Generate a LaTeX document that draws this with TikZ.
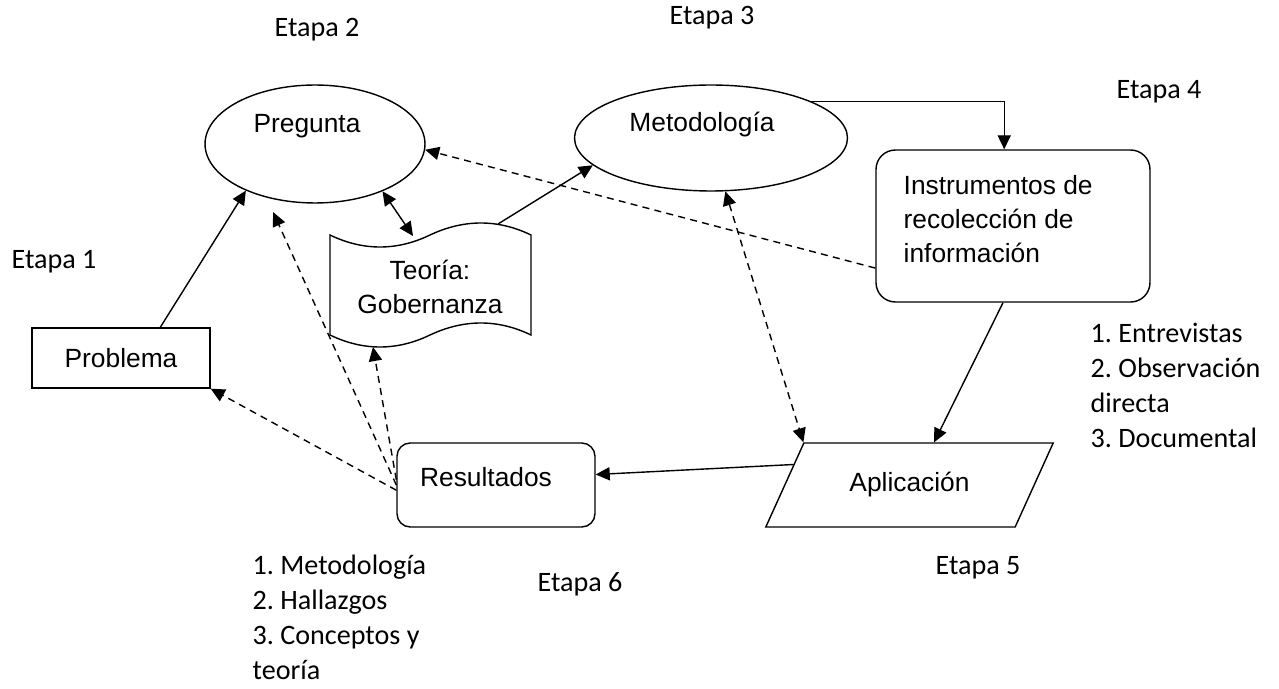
\documentclass[tikz,border=0pt]{standalone}
\usepackage{fontspec}
\setmainfont{Liberation Sans}
\newfontfamily\etapafont{Carlito}
\usetikzlibrary{arrows.meta,shapes.geometric}
\frenchspacing

\begin{document}
\begin{tikzpicture} [x=0.02cm, y=-0.02cm, line width=0.8pt,
  >={Triangle[length=8pt,width=7.5pt]},
  every node/.style={font=\fontsize{15pt}{19.5pt}\selectfont},
  etapa/.style={font=\etapafont\fontsize{16pt}{20pt}\selectfont},
  lista/.style={etapa, align=left, anchor=north west, inner sep=0pt},
  punteada/.style={dash pattern=on 4pt off 3pt}]

\useasboundingbox (0,0) rectangle (1279,689);

% the stages
\node (e1) [etapa] at (54,262) {Etapa 1};
\node (e2) [etapa] at (317,30) {Etapa 2};
\node (e3) [etapa] at (712,18) {Etapa 3};
\node (e4) [etapa] at (1159,92) {Etapa 4};
\node (e5) [etapa] at (978,568) {Etapa 5};
\node (e6) [etapa] at (580,584) {Etapa 6};


\node (prob) [draw, minimum width=3.56cm, minimum height=1.2cm] at (121,358) {Problema};

\node (preg) [draw, ellipse, minimum width=4.4cm, minimum height=2.36cm, inner sep=0pt] at (315,144) {};
\node (pregtxt) at (307,126) {Pregunta};

\node (metod) [draw, ellipse, minimum width=5.46cm, minimum height=2.12cm, inner sep=0pt] at (711,138) {};
\node (metodtxt) at (702,125) {Metodología};

\node (box) [draw, rounded corners=11pt, minimum width=5.48cm, minimum height=3.04cm] at (1013,226) {};
\node (boxtxt) [anchor=north west, align=left, inner sep=0pt, font=\fontsize{15pt}{19.3pt}\selectfont] at (903,175) {Instrumentos de\\recolección de\\información};

\node (res) [draw, rounded corners=7.5pt, minimum width=3.96cm, minimum height=1.68cm] at (496,485) {};
\node (restxt) at (486,477) {Resultados};

\node (apl) [draw, trapezium, trapezium left angle=49, trapezium right angle=131, trapezium stretches, minimum width=5.78cm, minimum height=1.68cm, inner sep=0pt] at (909.5,485) {Aplicación};


% the tape with the theory
\draw (330,235) .. controls (363,251) and (397,251) .. (430,235)
 .. controls (464,219) and (498,219) .. (531,235)--(531,335)
 .. controls (498,319) and (464,319) .. (430,335)
 .. controls (397,351) and (363,351) .. (330,335)--cycle;
\node (teo) [align=center, font=\fontsize{15pt}{19.8pt}\selectfont] at (430,287) {Teoría:\\Gobernanza};
\coordinate (teotop) at (413,236);
\coordinate (teoarr) at (498,224);
\coordinate (teobot) at (373,347);


% the lists
\node (lista1) [lista] at (1090,322) {1. Entrevistas\\2. Observación\\directa\\3. Documental};
\node (lista2) [lista] at (252,554) {1. Metodología\\2. Hallazgos\\3. Conceptos y\\teoría};


% the arrows
\draw [->] (prob.38)--(preg.214);
\draw [<->] (preg.-35)--(teotop);
\draw [->] (teoarr)--(metod.193);
\draw [->] (metod.20)-|([xshift=-5pt]box.north);
\draw [->] ([xshift=-5.7pt]box.south)--(apl.60);
\draw [->] (apl.170)--(res.6);

\draw [->, punteada] (box.197.7)--(preg.-3);
\draw [<->, punteada] (metod.-75)--(apl.top left corner);
\draw [->, punteada] (res.183)--(prob.south east);
\draw [->, punteada, shorten >=9pt] (res.180)--(preg.228);
\draw [->, punteada] (res.177)--(teobot);

\end{tikzpicture}
\end{document}
